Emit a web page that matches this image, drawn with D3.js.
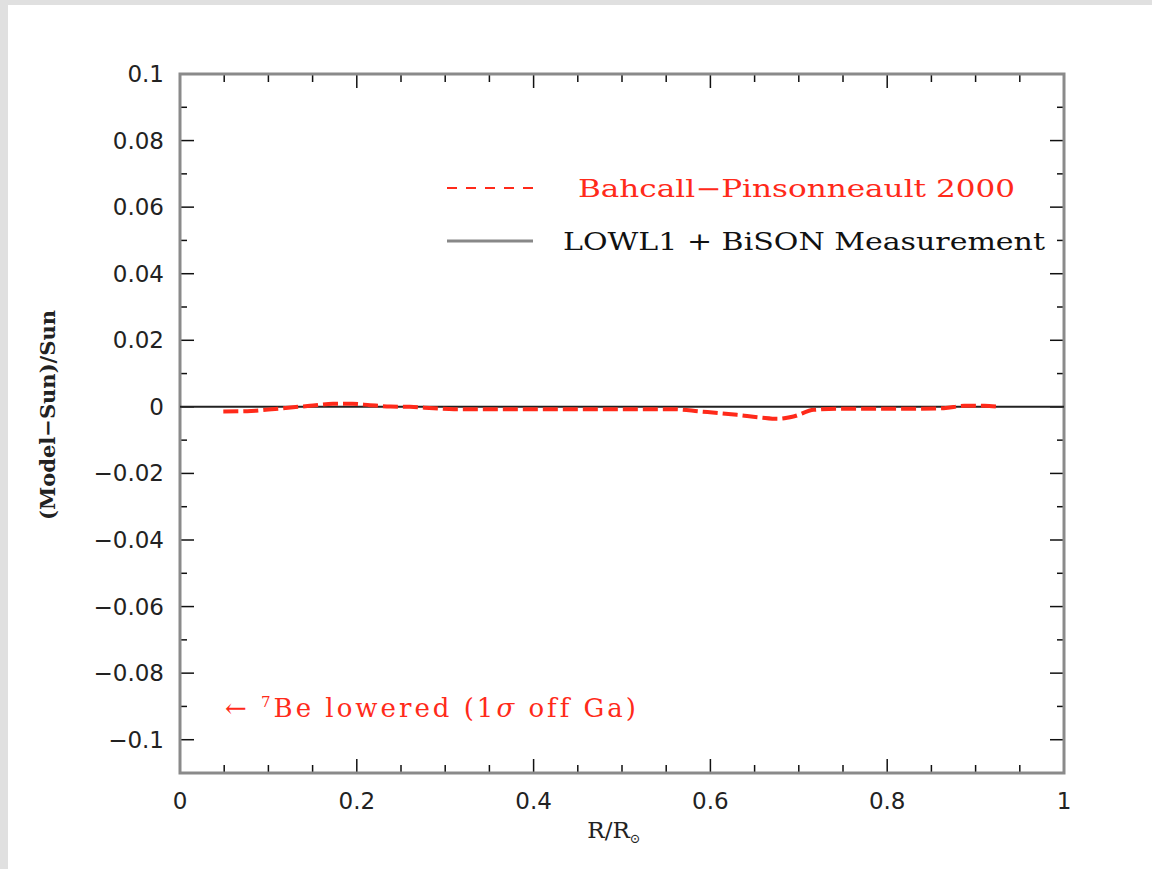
<!DOCTYPE html>
<html><head><meta charset="utf-8">
<script src="https://cdn.jsdelivr.net/npm/d3@7"></script>
<style>
html,body{margin:0;padding:0;background:#e0e0e0;}
svg{display:block;}
</style></head>
<body>
<script>
// Data: Bahcall-Pinsonneault 2000 (Model-Sun)/Sun vs R/Rsun
const radius = [0.049, 0.076, 0.10, 0.125, 0.147, 0.173, 0.195, 0.215, 0.238, 0.26, 0.287, 0.31, 0.36, 0.44, 0.50, 0.558, 0.589, 0.611, 0.63, 0.657, 0.676, 0.694, 0.717, 0.744, 0.808, 0.864, 0.887, 0.91, 0.923];
const bp2000 = [-0.0014, -0.0013, -0.0008, -0.0002, 0.0003, 0.0009, 0.0009, 0.0005, 0.0001, 0.0, -0.0004, -0.0007, -0.0007, -0.0007, -0.0007, -0.0007, -0.0014, -0.0019, -0.0024, -0.0032, -0.0036, -0.0029, -0.0009, -0.0006, -0.0006, -0.0004, 0.0003, 0.0003, 0.0001];
const measurementX = [0, 1];
const measurementY = [0, 0];
const xTicks = [0, 0.2, 0.4, 0.6, 0.8, 1];
const xTickLabels = ["0", "0.2", "0.4", "0.6", "0.8", "1"];
const yTicks = [0.1, 0.08, 0.06, 0.04, 0.02, 0, -0.02, -0.04, -0.06, -0.08, -0.1];
const yTickLabels = ["0.1", "0.08", "0.06", "0.04", "0.02", "0", "\u22120.02", "\u22120.04", "\u22120.06", "\u22120.08", "\u22120.1"];
const legendLabels = ["Bahcall\u2212Pinsonneault 2000", "LOWL1 + BiSON Measurement"];

const W = 1152, H = 869;
const svg = d3.select("body").append("svg").attr("width", W).attr("height", H);
svg.append("rect").attr("x", 8).attr("y", 5).attr("width", W - 8).attr("height", H - 5).attr("fill", "#fff");

const x = d3.scaleLinear().domain([0, 1]).range([180, 1064]);
const y = d3.scaleLinear().domain([-0.11, 0.1]).range([773, 74]);

const red = "#ff2a1a";
const tickColor = "#111";
const frameColor = "#8a8a8a";

// ticks
const g = svg.append("g");
const xMinor = d3.range(0, 1.0001, 0.05);
const yMinor = d3.range(-0.11, 0.1001, 0.01);
function isMajor(v, step){ return Math.abs(v/step - Math.round(v/step)) < 1e-6; }
xMinor.forEach(v => {
  const L = isMajor(v, 0.2) ? 14 : 8;
  const px = x(v);
  g.append("line").attr("x1", px).attr("x2", px).attr("y1", 773).attr("y2", 773 - L).attr("stroke", tickColor).attr("stroke-width", 1.5);
  g.append("line").attr("x1", px).attr("x2", px).attr("y1", 74).attr("y2", 74 + L).attr("stroke", tickColor).attr("stroke-width", 1.5);
});
yMinor.forEach(v => {
  const L = isMajor(v, 0.02) ? 14 : 7;
  const py = y(v);
  g.append("line").attr("x1", 180).attr("x2", 180 + L).attr("y1", py).attr("y2", py).attr("stroke", tickColor).attr("stroke-width", 1.5);
  g.append("line").attr("x1", 1064).attr("x2", 1064 - L).attr("y1", py).attr("y2", py).attr("stroke", tickColor).attr("stroke-width", 1.5);
});

// frame
svg.append("rect").attr("x", 180).attr("y", 74).attr("width", 884).attr("height", 699)
  .attr("fill", "none").attr("stroke", frameColor).attr("stroke-width", 3);

// tick labels
const font = "'DejaVu Sans', sans-serif";
xTicks.forEach((v, i) => {
  svg.append("text").attr("x", x(v)).attr("y", 809).attr("text-anchor", "middle")
    .attr("font-family", font).attr("font-size", 23).attr("fill", "#222").text(xTickLabels[i]);
});
yTicks.forEach((v, i) => {
  svg.append("text").attr("x", 164).attr("y", y(v) + 8).attr("text-anchor", "end")
    .attr("font-family", font).attr("font-size", 23).attr("fill", "#222").text(yTickLabels[i]);
});

// axis titles
const xl = svg.append("text").attr("x", 614).attr("y", 838).attr("text-anchor", "middle")
  .attr("font-family", "'DejaVu Serif', serif").attr("font-size", 23).attr("fill", "#222");
xl.append("tspan").text("R/R");
xl.append("tspan").attr("font-size", 13).attr("dy", 5).text("\u2299");

svg.append("text").attr("transform", "translate(55,415) rotate(-90)").attr("text-anchor", "middle")
  .attr("font-family", "'DejaVu Serif', serif").attr("font-size", 21).attr("font-weight", "bold").attr("fill", "#222")
  .attr("textLength", 210).attr("lengthAdjust", "spacingAndGlyphs")
  .text("(Model\u2212Sun)/Sun");

// measurement line (zero)
const line = d3.line().x((d, i) => x(d)).y((d, i) => y(measurementY[i]));
svg.append("path").attr("d", line(measurementX)).attr("fill", "none").attr("stroke", "#222").attr("stroke-width", 2);

// BP2000 curve
const curve = d3.line().x(d => x(d[0])).y(d => y(d[1])).curve(d3.curveMonotoneX);
svg.append("path").attr("d", curve(radius.map((r, i) => [r, bp2000[i]])))
  .attr("fill", "none").attr("stroke", red).attr("stroke-width", 4).attr("stroke-dasharray", "15,5");

// legend
svg.append("line").attr("x1", 447).attr("x2", 533).attr("y1", 188).attr("y2", 188)
  .attr("stroke", red).attr("stroke-width", 2).attr("stroke-dasharray", "10,9");
svg.append("text").attr("x", 578).attr("y", 197).attr("font-family", "'DejaVu Serif', serif")
  .attr("font-size", 24).attr("fill", red).attr("textLength", 437).attr("lengthAdjust", "spacingAndGlyphs")
  .text(legendLabels[0]);
svg.append("line").attr("x1", 447).attr("x2", 533).attr("y1", 241).attr("y2", 241)
  .attr("stroke", "#888").attr("stroke-width", 3);
svg.append("text").attr("x", 563).attr("y", 250).attr("font-family", "'DejaVu Serif', serif")
  .attr("font-size", 24).attr("fill", "#111").attr("textLength", 482).attr("lengthAdjust", "spacingAndGlyphs")
  .text(legendLabels[1]);

// annotation
const ann = svg.append("text").attr("x", 225).attr("y", 717).attr("font-family", "'DejaVu Serif', serif")
  .attr("font-size", 26).attr("letter-spacing", 3).attr("fill", red);
ann.append("tspan").text("\u2190 ");
ann.append("tspan").attr("font-size", 15).attr("dy", -10).text("7");
ann.append("tspan").attr("dy", 10).text("Be lowered (1");
ann.append("tspan").attr("font-style", "italic").text("\u03c3");
ann.append("tspan").text(" off Ga)");
</script>
</body></html>
